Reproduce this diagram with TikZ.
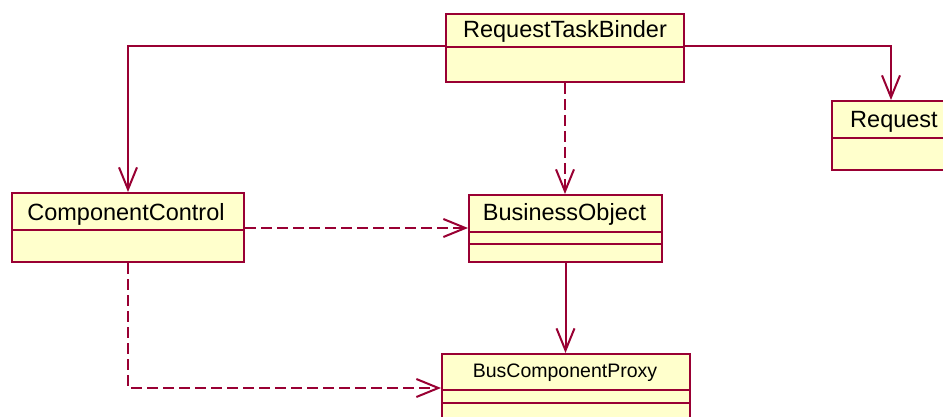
\documentclass[tikz,border=0pt]{standalone}
\usepackage{fontspec}
\setmainfont{Liberation Sans}
\usetikzlibrary{arrows.meta}
\definecolor{umlline}{HTML}{990033}
\definecolor{umlfill}{HTML}{FFFFCC}
\begin{document}
\begin{tikzpicture}[x=1pt,y=-1pt,
  classbox/.style={draw=umlline, fill=umlfill, line width=2pt, rectangle,
    inner sep=0pt, anchor=north west},
  divider/.style={draw=umlline, line width=2pt},
  classname/.style={font=\fontsize{23.5}{28}\selectfont, anchor=base, inner sep=0pt},
  smallname/.style={font=\fontsize{19.5}{24}\selectfont, anchor=base, inner sep=0pt},
  assoc/.style={draw=umlline, line width=2pt, -{Straight Barb[length=22pt,width=18pt]}},
  depend/.style={assoc, dash pattern=on 11pt off 5pt}]
\useasboundingbox (0,0) rectangle (943,417);
\clip (0,0) rectangle (943,417);

% RequestTaskBinder
\node[classbox, minimum width=238pt, minimum height=68pt] (rtb) at (445,13) {};
\node[classname] (rtb-t) at (565,38) {RequestTaskBinder};
\draw[divider] ([yshift=-34pt]rtb.north west) -- ([yshift=-34pt]rtb.north east);

% Request
\node[classbox, minimum width=127pt, minimum height=69pt] (req) at (831,100) {};
\node[classname] (req-t) at (894,128) {Request};
\draw[divider] ([yshift=-38pt]req.north west) -- ([yshift=-38pt]req.north east);

% ComponentControl
\node[classbox, minimum width=232pt, minimum height=69pt] (cc) at (11,192) {};
\node[classname] (cc-t) at (126,220) {ComponentControl};
\draw[divider] ([yshift=-38pt]cc.north west) -- ([yshift=-38pt]cc.north east);

% BusinessObject
\node[classbox, minimum width=193pt, minimum height=67pt] (bo) at (468,194) {};
\node[classname] (bo-t) at (564.5,221) {BusinessObject};
\draw[divider] ([yshift=-38pt]bo.north west) -- ([yshift=-38pt]bo.north east);
\draw[divider] ([yshift=-50pt]bo.north west) -- ([yshift=-50pt]bo.north east);

% BusComponentProxy
\node[classbox, minimum width=248pt, minimum height=90pt] (bcp) at (441,353) {};
\node[smallname] (bcp-t) at (565,377) {BusComponentProxy};
\draw[divider] ([yshift=-37pt]bcp.north west) -- ([yshift=-37pt]bcp.north east);
\draw[divider] ([yshift=-50pt]bcp.north west) -- ([yshift=-50pt]bcp.north east);

% associations
\draw[assoc] ([yshift=-33pt]rtb.north west) -| (cc.north);
\draw[assoc] ([yshift=-33pt]rtb.north east) -| ([xshift=60pt]req.north west);
\draw[assoc] (bo.south) -- (bo.south |- bcp.north);

% dependencies
\coordinate (cc-out) at ([yshift=-36pt]cc.north east);
\draw[depend] (rtb.south) -- (rtb.south |- bo.north);
\draw[depend] (cc-out) -- (bo.west |- cc-out);
\coordinate (bcp-in) at ([yshift=-35pt]bcp.north west);
\draw[depend] (cc.south) |- (bcp-in);
\end{tikzpicture}
\end{document}
